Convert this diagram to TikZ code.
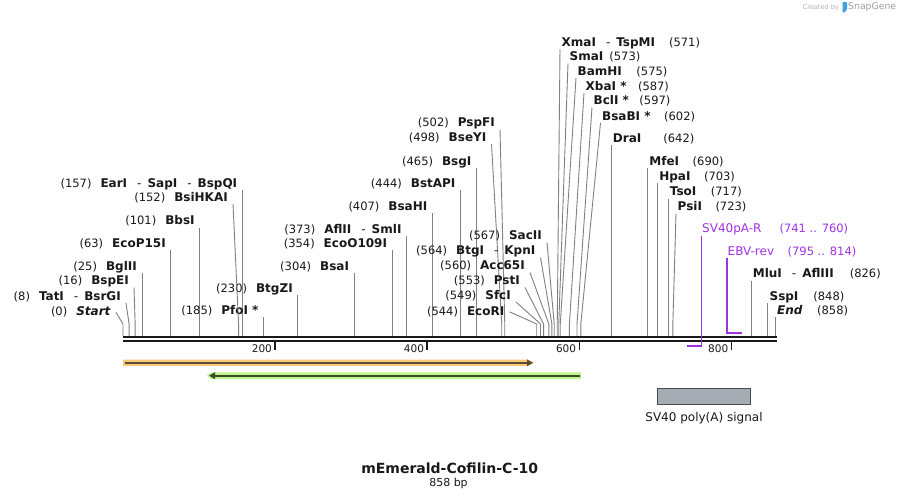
\documentclass[tikz,border=0pt]{standalone}
\usepackage{fontspec}
\setmainfont{DejaVu Sans}
\usepackage{tikz}
\usetikzlibrary{arrows.meta,positioning}

\definecolor{txt}{RGB}{25,25,25}
\definecolor{sitegray}{RGB}{128,128,128}
\definecolor{primer}{RGB}{160,50,230}
\definecolor{bandorange}{RGB}{250,200,120}
\definecolor{bandgreen}{RGB}{190,245,140}
\definecolor{lineorange}{RGB}{90,75,50}
\definecolor{linegreen}{RGB}{55,75,40}
\definecolor{boxgray}{RGB}{166,172,180}
\definecolor{snapblue}{RGB}{60,160,230}

\newcommand{\enz}[1]{{\fontsize{12}{14}\selectfont\bfseries #1}}
\newcommand{\dsh}{\hspace{10pt}\textmd{-}\hspace{6pt}}

\begin{document}
\begin{tikzpicture}[x=1pt,y=-1pt,
    font=\fontsize{11.5}{13}\selectfont, text=txt,
    cutl/.style={inner xsep=5pt, inner ysep=0.5pt, text height=9pt, text depth=2pt},
    cutr/.style={inner xsep=1.5pt, inner ysep=0.5pt, text height=9pt, text depth=2pt},
    siteline/.style={draw=sitegray, line width=0.9pt},
    backbone/.style={draw=txt, line width=2.5pt},
    primerlbl/.style={text=primer, inner xsep=0.5pt, inner ysep=0.5pt, text height=9pt, text depth=2pt, font=\fontsize{12}{14}\selectfont},
    primerline/.style={draw=primer, line width=1.3pt},
    primerbar/.style={draw=primer, line width=2.3pt}]

    \fill[white] (0,0) rectangle (900,499);
    \useasboundingbox (0,0) rectangle (900,499);

    % cut sites, labels on the left, straight lines
    \foreach \bp/\ty/\nm in {25/272.7/BglII, 63/250/EcoP15I, 101/227.5/BbsI,
        157/190/{EarI\dsh SapI\dsh BspQI}, 185/316.7/{PfoI *}, 230/295/BtgZI,
        304/273.3/BsaI, 354/250/EcoO109I, 373/236/{AflII\dsh SmlI},
        407/213.3/BsaHI, 444/190/BstAPI, 465/168.3/BsgI} {
        \coordinate (s\bp) at ({123+0.7605*\bp},336);
        \node[cutl, anchor=south east] (l\bp) at ({123+0.7605*\bp},\ty) {(\bp)\hspace{9pt}\enz{\nm}};
        \draw[siteline] (l\bp.south east) -- (s\bp);
    }

    % cut sites, labels on the left, bent lines
    \foreach \bp/\tx/\ty/\an/\nm in {0/116/318.5/east/\textit{Start},
        8/126/303/south east/{TatI\dsh BsrGI}, 16/134/287.5/south east/BspEI,
        152/233/204/south east/BsiHKAI, 498/491.5/144/south east/BseYI,
        502/500/129.5/south east/PspFI, 544/509.5/318/east/EcoRI,
        549/516/302/south east/SfcI, 553/525/287.5/south east/PstI,
        560/530/272.5/south east/Acc65I, 564/540.5/257.5/south east/{BtgI\dsh KpnI},
        567/547/242.5/south east/SacII} {
        \coordinate (s\bp) at ({123+0.7605*\bp},336);
        \node[cutl, anchor=south east] (l\bp) at (\tx,\ty) {(\bp)\hspace{9pt}\enz{\nm}};
        \draw[siteline] (l\bp.\an) -- ([yshift=12pt]s\bp) -- (s\bp);
    }

    % cut sites, labels on the right, straight lines
    \foreach \bp/\ty/\gap/\nm in {642/145/22/DraI, 690/168/13.5/MfeI, 703/183/13.5/HpaI,
        717/198.5/14.5/TsoI, 826/280.5/16/{MluI\dsh AflIII}, 848/303/15/SspI,
        858/317/14.5/\textit{End}} {
        \coordinate (s\bp) at ({123+0.7605*\bp},336);
        \node[cutr, anchor=south west] (r\bp) at ({123+0.7605*\bp},\ty) {\enz{\nm}\hspace{\gap pt}(\bp)};
        \draw[siteline] (r\bp.south west) -- (s\bp);
    }

    % cut sites, labels on the right, bent lines
    \foreach \bp/\tx/\ty/\gap/\nm in {571/560/49/14/{XmaI\dsh TspMI}, 573/568/63.5/6/SmaI,
        575/576/78/14.5/BamHI, 587/584/93/11.5/{XbaI *}, 597/592/107.5/10.5/{BclI *},
        602/600.5/123/13.5/{BsaBI *}, 723/676/213.5/13.5/PsiI} {
        \coordinate (s\bp) at ({123+0.7605*\bp},336);
        \node[cutr, anchor=south west] (r\bp) at (\tx,\ty) {\enz{\nm}\hspace{\gap pt}(\bp)};
        \draw[siteline] (r\bp.south west) -- ([yshift=12pt]s\bp) -- (s\bp);
    }

    % sequence
    \draw[backbone] (123,337) -- (776.5,337);
    \draw[backbone] (123,341.2) -- (776.5,341.2);
    \foreach \t in {200,400,600,800} {
        \coordinate (t\t) at ({123+0.7605*\t},342);
        \draw[draw=txt, line width=1.5pt] (t\t) -- ++(0,8);
        \node[anchor=east, inner sep=1pt, font=\fontsize{10.5}{12}\selectfont] (tl\t) at ([xshift=-2pt, yshift=-7pt]t\t) {\t};
    }

    % primers
    \coordinate (sv3) at (701.5,346.3);
    \node[primerlbl, anchor=south west] (pSV) at (701.5,235.5) {SV40pA-R\hspace{18pt}{\fontsize{11.5}{13}\selectfont(741 .. 760)}};
    \draw[primerline] (pSV.south west) -- (sv3);
    \draw[primerbar] (sv3) -- (686.5,346.3);
    \coordinate (ebv5) at (727,332.7);
    \node[primerlbl, anchor=south west] (pEBV) at (727,258) {EBV-rev\hspace{13.5pt}{\fontsize{11.5}{13}\selectfont(795 .. 814)}};
    \draw[primerline] (pEBV.south west) -- (ebv5);
    \draw[primerbar] ([xshift=-0.6pt]ebv5) -- (742,332.7);

    % features
    \fill[bandorange] (123,359.5) -- (527,359.5) -- (534.5,362.8) -- (527,366.1) -- (123,366.1) -- cycle;
    \draw[lineorange, line width=2pt, -{Triangle[length=6pt,width=6.5pt]}] (124.5,362.8) -- (533,362.8);
    \fill[bandgreen] (581,372.4) -- (211,372.4) -- (207,375.7) -- (211,379) -- (581,379) -- cycle;
    \draw[linegreen, line width=2pt, -{Triangle[length=6pt,width=6.5pt]}] (579.5,375.7) -- (209,375.7);

    \node[draw={rgb,255:red,75;green,75;blue,75}, fill=boxgray, line width=1pt, inner sep=0pt,
        minimum width=93.4pt, minimum height=16pt] (polyA) at (704,396.3) {};
    \node[below=6.5pt of polyA, inner sep=1pt, font=\fontsize{12}{14}\selectfont] (polyAlbl) {SV40 poly(A) signal};

    % name and length
    \node[font=\fontsize{14}{16}\selectfont\bfseries] (title) at (449.7,468.3) {mEmerald-Cofilin-C-10};
    \node[font=\fontsize{11}{13}\selectfont] (len) at (448.5,483.5) {858 bp};

    % credit
    \node[anchor=west, inner sep=0pt, text=gray!60, font=\fontsize{6.6}{8}\selectfont] (credit) at (802.5,7.5) {Created by};
    \fill[snapblue, rounded corners=0.8pt] (842.5,2) -- (847,2) -- (847,9) -- (844.6,12.5) -- (842.5,12.5) -- cycle;
    \node[anchor=west, inner sep=0pt, text=gray!75, font=\fontsize{9.3}{11}\selectfont] (snapgene) at (848,7.5) {SnapGene};
\end{tikzpicture}
\end{document}
